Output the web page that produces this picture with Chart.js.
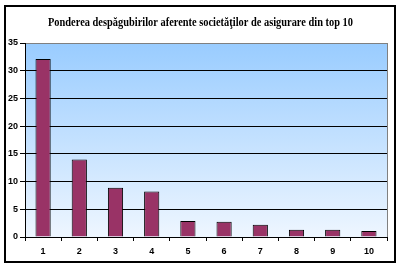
<!DOCTYPE html>
<html>
<head>
<meta charset="utf-8">
<script src="https://cdn.jsdelivr.net/npm/chart.js@4/dist/chart.umd.min.js"></script>
<style>
html,body{margin:0;padding:0;background:#fff;}
#wrap{width:401px;height:267px;position:relative;}
</style>
</head>
<body>
<div id="wrap"><canvas id="c" width="401" height="267"></canvas></div>
<script>
const chartTitle = "Ponderea despăgubirilor aferente societăţilor de asigurare din top 10";
const categories = ["1","2","3","4","5","6","7","8","9","10"];
const values = [32.1, 14.0, 8.9, 8.2, 2.9, 2.75, 2.2, 1.3, 1.3, 1.1];
const yTicks = [0, 5, 10, 15, 20, 25, 30, 35];

const decor = {
  id: 'decor',
  beforeDraw(chart) {
    const {ctx, chartArea: a} = chart;
    ctx.save();
    ctx.fillStyle = '#fff';
    ctx.fillRect(0, 0, chart.width, chart.height);
    const g = ctx.createLinearGradient(0, a.top, 0, a.bottom);
    g.addColorStop(0, '#99CCFF');
    g.addColorStop(1, '#EEF6FF');
    ctx.fillStyle = g;
    ctx.fillRect(a.left, a.top, a.right - a.left, a.bottom - a.top);
    ctx.restore();
  },
  afterDraw(chart) {
    const {ctx, chartArea: a} = chart;
    ctx.save();
    ctx.strokeStyle = '#808080';
    ctx.lineWidth = 1;
    ctx.beginPath();
    ctx.moveTo(a.right + 0.5, a.top);
    ctx.lineTo(a.right + 0.5, a.bottom);
    ctx.stroke();
    ctx.strokeStyle = '#000';
    ctx.lineWidth = 2;
    ctx.strokeRect(5, 6, 390, 256);
    ctx.fillStyle = '#000';
    ctx.font = 'bold 13px "Liberation Serif", "Times New Roman", serif';
    ctx.textBaseline = 'alphabetic';
    const w = ctx.measureText(chartTitle).width;
    const sx = 305 / w;
    ctx.translate(200.5, 26);
    ctx.scale(sx, 1);
    ctx.textAlign = 'center';
    ctx.fillText(chartTitle, 0, 0);
    ctx.restore();
  }
};

new Chart(document.getElementById('c'), {
  type: 'bar',
  data: {
    labels: categories,
    datasets: [{
      data: values,
      backgroundColor: '#993366',
      borderColor: '#000',
      borderWidth: 1,
      borderSkipped: 'bottom',
      barPercentage: 0.42,
      categoryPercentage: 1
    }]
  },
  options: {
    responsive: false,
    animation: false,
    devicePixelRatio: 1,
    layout: { padding: { top: 43, right: 14, left: 0, bottom: 0 } },
    plugins: { legend: { display: false }, title: { display: false }, tooltip: { enabled: false } },
    scales: {
      x: {
        offset: true,
        grid: { offset: true, drawOnChartArea: false, drawTicks: true, tickLength: 4, color: '#000', tickColor: '#000' },
        border: { color: '#000', width: 1 },
        ticks: { color: '#000', padding: 5, font: { family: '"Liberation Sans", Arial, sans-serif', size: 9, weight: 'bold' }, maxRotation: 0 },
        afterFit(s) { s.height = 30; }
      },
      y: {
        min: 0, max: 35,
        afterBuildTicks(s) { s.ticks = yTicks.map(v => ({ value: v })); },
        grid: {
          color: (c) => c.tick && c.tick.value === 35 ? '#808080' : '#000',
          tickColor: '#000',
          tickLength: 5,
          lineWidth: 1
        },
        border: { color: '#000', width: 1 },
        ticks: { color: '#000', padding: 2, font: { family: '"Liberation Sans", Arial, sans-serif', size: 9, weight: 'bold' } },
        afterFit(s) { s.width = 25; }
      }
    }
  },
  plugins: [decor]
});
</script>
</body>
</html>
